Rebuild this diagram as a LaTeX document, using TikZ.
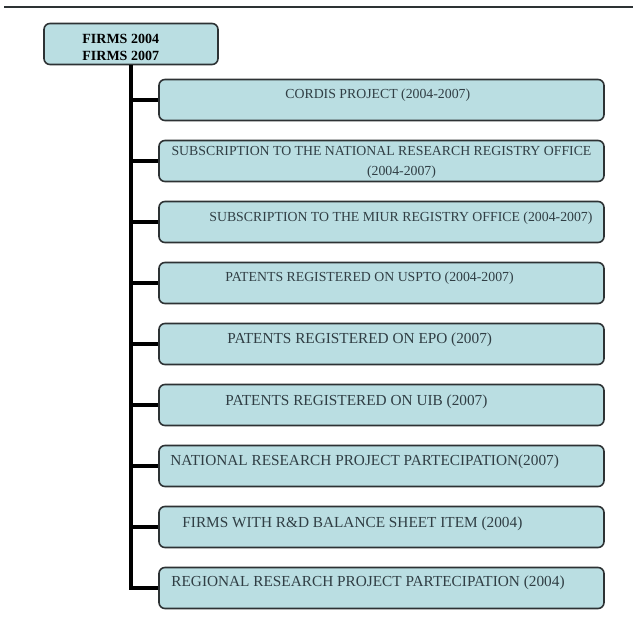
\documentclass[tikz,border=0pt]{standalone}
\usepackage{fontspec}
\setmainfont{Liberation Serif}
\usetikzlibrary{positioning}

\definecolor{boxfill}{RGB}{186,222,226}
\definecolor{boxline}{RGB}{45,50,52}
\definecolor{labeltext}{RGB}{48,62,68}

\tikzset{
  item/.style={draw=boxline, line width=1.6pt, fill=boxfill, rounded corners=6pt,
    minimum width=445pt, minimum height=41pt, inner sep=0pt},
  itemtext/.style={text=labeltext, font=\fontsize{13.8}{20}\selectfont, inner sep=0pt, anchor=west},
  itembig/.style={itemtext, font=\fontsize{15.3}{20}\selectfont},
  trunk/.style={line width=3.2pt, black},
}

\begin{document}
\begin{tikzpicture}[x=1pt, y=-1pt]
            \useasboundingbox (0,0) rectangle (633,626);
            \draw[line width=1.5pt, boxline] (4,7) -- (633,7);

            \node[item, minimum width=174pt] (root) at (131,44) {};
            \node[itemtext, text=black, font=\bfseries\fontsize{14}{17}\selectfont, align=left,
              right=39pt of root.west, yshift=-3pt] (roottext) {FIRMS 2004\\FIRMS 2007};

            \node[item] (b1) at (381.5,100) {};
            \node[item] (b2) at (381.5,161) {};
            \node[item] (b3) at (381.5,222) {};
            \node[item] (b4) at (381.5,283) {};
            \node[item] (b5) at (381.5,344) {};
            \node[item] (b6) at (381.5,405) {};
            \node[item] (b7) at (381.5,466) {};
            \node[item] (b8) at (381.5,527) {};
            \node[item] (b9) at (381.5,588) {};

            \node[itemtext, right=127pt of b1.west, yshift=5pt] (t1) {CORDIS PROJECT (2004-2007)};
            \node[itemtext, anchor=center, align=center, yshift=-1.5pt] (t2) at (b2.center)
              {SUBSCRIPTION TO THE NATIONAL RESEARCH REGISTRY OFFICE\\\hspace*{40pt}(2004-2007)};
            \node[itemtext, right=51pt of b3.west, yshift=4pt] (t3) {SUBSCRIPTION TO THE MIUR REGISTRY OFFICE (2004-2007)};
            \node[itemtext, right=67pt of b4.west, yshift=5pt] (t4) {PATENTS REGISTERED ON USPTO (2004-2007)};
            \node[itembig, right=69pt of b5.west, yshift=4pt] (t5) {PATENTS REGISTERED ON EPO (2007)};
            \node[itembig, right=67pt of b6.west, yshift=3pt] (t6) {PATENTS REGISTERED ON UIB (2007)};
            \node[itembig, right=12pt of b7.west, yshift=4pt] (t7) {NATIONAL RESEARCH PROJECT PARTECIPATION(2007)};
            \node[itembig, right=24pt of b8.west, yshift=3pt] (t8) {FIRMS WITH R\&D BALANCE SHEET ITEM (2004)};
            \node[itembig, right=13pt of b9.west, yshift=5pt] (t9) {REGIONAL RESEARCH PROJECT PARTECIPATION (2004)};

            \draw[trunk] (root.south) |- (b9.west);
            \draw[trunk] (root.south |- b1.west) -- (b1.west);
            \draw[trunk] (root.south |- b2.west) -- (b2.west);
            \draw[trunk] (root.south |- b3.west) -- (b3.west);
            \draw[trunk] (root.south |- b4.west) -- (b4.west);
            \draw[trunk] (root.south |- b5.west) -- (b5.west);
            \draw[trunk] (root.south |- b6.west) -- (b6.west);
            \draw[trunk] (root.south |- b7.west) -- (b7.west);
            \draw[trunk] (root.south |- b8.west) -- (b8.west);
        \end{tikzpicture}
\end{document}
